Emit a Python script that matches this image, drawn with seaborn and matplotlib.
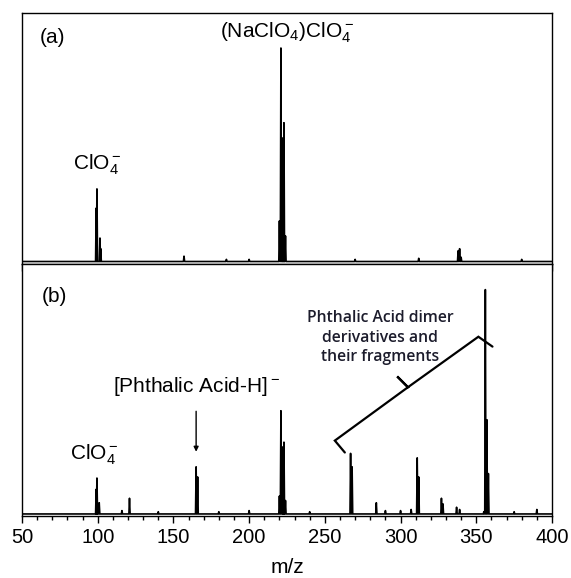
import numpy as np
import pandas as pd
import matplotlib
matplotlib.use("Agg")
import matplotlib.pyplot as plt
import seaborn as sns

# (a) NaClO4 only - peak positions (m/z) and relative intensities
mz_a = [99, 99.5, 101.5, 102, 157, 185, 200, 220, 221, 222.5, 223, 224, 270, 312, 338, 339, 340, 380]
int_a = [25, 34, 11, 6, 2.5, 1, 1, 19, 100, 58, 65, 12, 1, 1.5, 5, 6, 2, 1]

# (b) NaClO4 + phthalic acid
mz_b = [99, 99.5, 101, 116, 121, 140, 165, 166, 180, 200, 220, 221, 222.5, 223, 224,
        240, 267, 268, 284, 290, 300, 307, 311, 312, 327, 328, 337, 339, 355, 356, 357, 358, 375, 390]
int_b = [11, 16, 5, 1.5, 7, 1, 21, 16.5, 1, 1.5, 8, 46, 30, 32, 6,
         1, 27, 21, 5, 1.5, 1.5, 2, 25, 16.5, 7, 4.5, 3, 2, 1, 100, 42, 18, 1, 2]

ticks = [50, 100, 150, 200, 250, 300, 350, 400]

# bracket around the dimer peaks (m/z, relative intensity of panel b)
bracket_x = [263.2, 256.6, 304.9, 297.8, 304.9, 351.4, 360.7]
bracket_y = [27.4, 32.7, 56.5, 61.3, 56.5, 79.0, 74.6]


def stick_profile(mz, inten, lo=50, hi=400):
    xs, ys = [lo], [0.0]
    for m, h in sorted(zip(mz, inten)):
        xs += [m - 0.4, m, m + 0.4]
        ys += [0.0, h, 0.0]
    xs.append(hi)
    ys.append(0.0)
    return pd.DataFrame({"mz": xs, "intensity": ys})


sns.set_style("white")
plt.rcParams["font.family"] = ["Liberation Sans", "DejaVu Sans"]
plt.rcParams["mathtext.fontset"] = "custom"
plt.rcParams["mathtext.rm"] = "Liberation Sans"
plt.rcParams["mathtext.default"] = "rm"
plt.rcParams["text.color"] = "black"
plt.rcParams["axes.labelcolor"] = "black"
plt.rcParams["xtick.color"] = "black"

fig, (ax1, ax2) = plt.subplots(2, 1, figsize=(5.71, 5.78), dpi=100, sharex=True)
fig.subplots_adjust(left=0.0385, right=0.9667, top=0.9775, bottom=0.1073, hspace=0)

sns.lineplot(data=stick_profile(mz_a, int_a), x="mz", y="intensity", ax=ax1,
             color="black", lw=1.2, sort=False, estimator=None)
sns.lineplot(data=stick_profile(mz_b, int_b), x="mz", y="intensity", ax=ax2,
             color="black", lw=1.2, sort=False, estimator=None)

ax1.set_ylim(-1.4, 116.4)
ax2.set_ylim(-0.9, 111.2)
for ax in (ax1, ax2):
    ax.set_xlim(50, 400)
    ax.set_yticks([])
    ax.set_ylabel("")
    ax.set_xticks(ticks)
    ax.set_xticks(np.arange(50, 401, 10), minor=True)
    ax.tick_params(axis="x", which="major", direction="out", length=5, width=1, bottom=True, color="black")
    ax.tick_params(axis="x", which="minor", direction="out", length=3, width=1, bottom=True, color="black")
    for s in ax.spines.values():
        s.set_color("black")
        s.set_linewidth(1)

ax1.tick_params(labelbottom=False)
ax2.set_xticklabels([str(t) for t in ticks], fontsize=14.5)
ax2.set_xlabel("m/z", fontsize=15, labelpad=8)
ax1.set_xlabel("")

# labels
ax1.text(61.9, 104.7, "(a)", fontsize=15, ha="left", va="center")
ax1.text(180.8, 105, r"(NaClO$_4$)ClO$_4^-$", fontsize=15, ha="left", va="baseline")
ax1.text(83.7, 43, r"ClO$_4^-$", fontsize=15, ha="left", va="baseline")

ax2.text(63.2, 96.9, "(b)", fontsize=15, ha="left", va="center")
ax2.text(110.1, 54.5, r"[Phthalic Acid-H]$^-$", fontsize=15, ha="left", va="baseline")
ax2.text(81.7, 24.1, r"ClO$_4^-$", fontsize=15, ha="left", va="baseline")
ax2.text(286.5, 78.5, "Phthalic Acid dimer\nderivatives and\ntheir fragments", fontsize=11.3,
         family=["Open Sans", "DejaVu Sans"], weight="semibold", color="#1c1c2c",
         ha="center", va="center", linespacing=1.3)

ax2.annotate("", xy=(165, 26.5), xytext=(165, 47),
             arrowprops=dict(arrowstyle="-|>", lw=1, color="black", mutation_scale=7))
ax2.plot(bracket_x, bracket_y, color="black", lw=1.6, solid_joinstyle="miter")

fig.savefig("out.png", dpi=100)
